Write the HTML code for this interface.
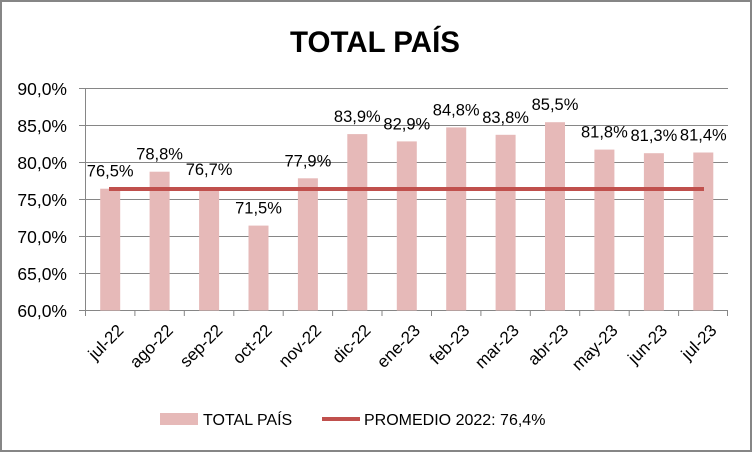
<!DOCTYPE html>
<html><head><meta charset="utf-8"><style>
body{margin:0;background:#fff}
svg{display:block;font-family:"Liberation Sans",sans-serif}
</style></head><body>
<svg width="752" height="452" viewBox="0 0 752 452">
<rect x="1" y="1" width="750" height="450" fill="#fff" stroke="#868686" stroke-width="2"/>
<text x="375" y="52" text-anchor="middle" font-size="30" font-weight="bold" textLength="170" lengthAdjust="spacingAndGlyphs">TOTAL PAÍS</text>
<g stroke="#868686" stroke-width="1">
<line x1="79" y1="88.5" x2="728" y2="88.5"/>
<line x1="79" y1="125.5" x2="728" y2="125.5"/>
<line x1="79" y1="162.5" x2="728" y2="162.5"/>
<line x1="79" y1="199.5" x2="728" y2="199.5"/>
<line x1="79" y1="236.5" x2="728" y2="236.5"/>
<line x1="79" y1="273.5" x2="728" y2="273.5"/>
<line x1="79" y1="310.5" x2="728" y2="310.5"/>
<line x1="85.5" y1="88" x2="85.5" y2="316"/>
<line x1="134.9" y1="310.5" x2="134.9" y2="316"/>
<line x1="184.3" y1="310.5" x2="184.3" y2="316"/>
<line x1="233.8" y1="310.5" x2="233.8" y2="316"/>
<line x1="283.2" y1="310.5" x2="283.2" y2="316"/>
<line x1="332.6" y1="310.5" x2="332.6" y2="316"/>
<line x1="382" y1="310.5" x2="382" y2="316"/>
<line x1="431.5" y1="310.5" x2="431.5" y2="316"/>
<line x1="480.9" y1="310.5" x2="480.9" y2="316"/>
<line x1="530.3" y1="310.5" x2="530.3" y2="316"/>
<line x1="579.7" y1="310.5" x2="579.7" y2="316"/>
<line x1="629.2" y1="310.5" x2="629.2" y2="316"/>
<line x1="678.6" y1="310.5" x2="678.6" y2="316"/>
<line x1="727.5" y1="310.5" x2="727.5" y2="316"/>
</g>
<g font-size="17.5" text-anchor="end" fill="#000">
<text x="67" y="95">90,0%</text><text x="67" y="132">85,0%</text><text x="67" y="169">80,0%</text>
<text x="67" y="206">75,0%</text><text x="67" y="243">70,0%</text><text x="67" y="280">65,0%</text><text x="67" y="317">60,0%</text>
</g>
<g fill="#e6b9b8">
<rect x="100.2" y="188.7" width="20" height="121.8"/>
<rect x="149.6" y="171.7" width="20" height="138.8"/>
<rect x="199.1" y="187.2" width="20" height="123.3"/>
<rect x="248.5" y="225.6" width="20" height="84.9"/>
<rect x="297.9" y="178.3" width="20" height="132.2"/>
<rect x="347.3" y="134.1" width="20" height="176.4"/>
<rect x="396.8" y="141.4" width="20" height="169.1"/>
<rect x="446.2" y="127.4" width="20" height="183.1"/>
<rect x="495.6" y="134.8" width="20" height="175.7"/>
<rect x="545" y="122.2" width="20" height="188.3"/>
<rect x="594.4" y="149.6" width="20" height="160.9"/>
<rect x="643.9" y="153.2" width="20" height="157.3"/>
<rect x="693.3" y="152.5" width="20" height="158"/>
</g>
<line x1="109" y1="189" x2="704" y2="189" stroke="#c0504d" stroke-width="4"/>
<g font-size="16.5" text-anchor="middle">
<text x="110.2" y="176.7">76,5%</text>
<text x="159.6" y="159.7">78,8%</text>
<text x="209.1" y="175.2">76,7%</text>
<text x="258.5" y="213.6">71,5%</text>
<text x="307.9" y="166.3">77,9%</text>
<text x="357.3" y="122.1">83,9%</text>
<text x="406.8" y="129.4">82,9%</text>
<text x="456.2" y="115.4">84,8%</text>
<text x="505.6" y="122.8">83,8%</text>
<text x="555" y="110.2">85,5%</text>
<text x="604.4" y="137.6">81,8%</text>
<text x="653.9" y="141.2">81,3%</text>
<text x="703.3" y="140.5">81,4%</text>
</g>
<g font-size="17" text-anchor="end">
<text transform="translate(116.2,323) rotate(-45)" dy="0.7em">jul-22</text>
<text transform="translate(165.6,323) rotate(-45)" dy="0.7em">ago-22</text>
<text transform="translate(215.1,323) rotate(-45)" dy="0.7em">sep-22</text>
<text transform="translate(264.5,323) rotate(-45)" dy="0.7em">oct-22</text>
<text transform="translate(313.9,323) rotate(-45)" dy="0.7em">nov-22</text>
<text transform="translate(363.3,323) rotate(-45)" dy="0.7em">dic-22</text>
<text transform="translate(412.8,323) rotate(-45)" dy="0.7em">ene-23</text>
<text transform="translate(462.2,323) rotate(-45)" dy="0.7em">feb-23</text>
<text transform="translate(511.6,323) rotate(-45)" dy="0.7em">mar-23</text>
<text transform="translate(561,323) rotate(-45)" dy="0.7em">abr-23</text>
<text transform="translate(610.4,323) rotate(-45)" dy="0.7em">may-23</text>
<text transform="translate(659.9,323) rotate(-45)" dy="0.7em">jun-23</text>
<text transform="translate(709.3,323) rotate(-45)" dy="0.7em">jul-23</text>
</g>
<rect x="160" y="413" width="38" height="12" fill="#e6b9b8"/>
<text x="203" y="425" font-size="16">TOTAL PAÍS</text>
<line x1="322" y1="419" x2="360" y2="419" stroke="#c0504d" stroke-width="4"/>
<text x="364" y="425" font-size="16">PROMEDIO 2022: 76,4%</text>
</svg>
</body></html>
